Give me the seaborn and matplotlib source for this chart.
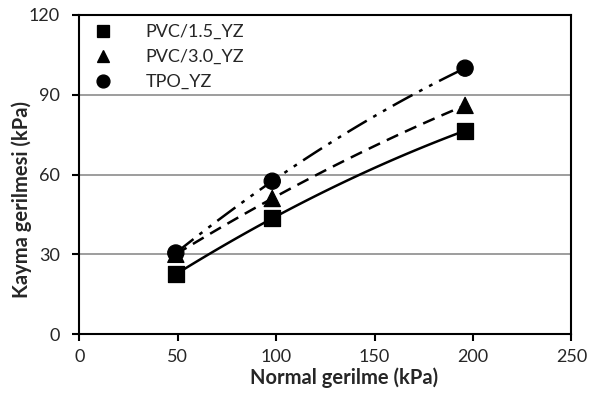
import numpy as np
import pandas as pd
import seaborn as sns
import matplotlib.pyplot as plt

# Data
normal_stress = [49, 98, 196]
pvc15 = [22.5, 43.5, 76.5]
pvc30 = [30.0, 51.0, 86.0]
tpo = [30.5, 57.5, 100.0]
labels = ['PVC/1.5_YZ', 'PVC/3.0_YZ', 'TPO_YZ']
markers = ['s', '^', 'o']
line_styles = ['-', (0, (5, 3)), (0, (9, 3, 1.5, 3, 1.5, 3))]

sns.set_style('white')
plt.rcParams['font.family'] = ['Lato', 'DejaVu Sans']

df = pd.DataFrame({'x': normal_stress * 3,
                   'y': pvc15 + pvc30 + tpo,
                   'series': sum([[l] * 3 for l in labels], [])})

fig, ax = plt.subplots(figsize=(5.97, 3.94), dpi=100)

# smooth trend curves through the points
for lab, ls in zip(labels, line_styles):
    sub = df[df['series'] == lab]
    coef = np.polyfit(sub['x'], sub['y'], 2)
    xs = np.linspace(min(normal_stress), max(normal_stress), 100)
    sns.lineplot(x=xs, y=np.polyval(coef, xs), ax=ax, color='black',
                 linestyle=ls, linewidth=1.8, legend=False)

sns.scatterplot(data=df, x='x', y='y', style='series', markers=dict(zip(labels, markers)),
                color='black', s=135, edgecolor='black', ax=ax, zorder=5)

ax.set_xlim(0, 250)
ax.set_ylim(0, 120)
ax.set_xticks([0, 50, 100, 150, 200, 250])
ax.set_yticks([0, 30, 60, 90, 120])
ax.yaxis.grid(True, color='#8c8c8c', linewidth=1.2)
ax.set_axisbelow(True)
for s in ax.spines.values():
    s.set_color('black')
    s.set_linewidth(1.5)
ax.tick_params(axis='both', direction='out', length=5, width=1.5, color='black',
               labelsize=13, bottom=True, left=True)
ax.tick_params(axis='x', pad=6)
ax.tick_params(axis='y', pad=9)

ax.set_xlabel('Normal gerilme (kPa)', fontsize=14.5, fontweight='bold')
ax.set_ylabel('Kayma gerilmesi (kPa)', fontsize=14.5, fontweight='bold')
ax.xaxis.set_label_coords(0.539, -0.104)
ax.yaxis.set_label_coords(-0.097, 0.423)

leg = ax.legend(loc='upper left', frameon=False, fontsize=13, markerscale=0.8,
                handlelength=1.6, handletextpad=1.55, labelspacing=0.5,
                borderaxespad=0.1)

fig.subplots_adjust(left=0.133, right=0.957, top=0.962, bottom=0.152)
fig.savefig('out.png', dpi=100)
